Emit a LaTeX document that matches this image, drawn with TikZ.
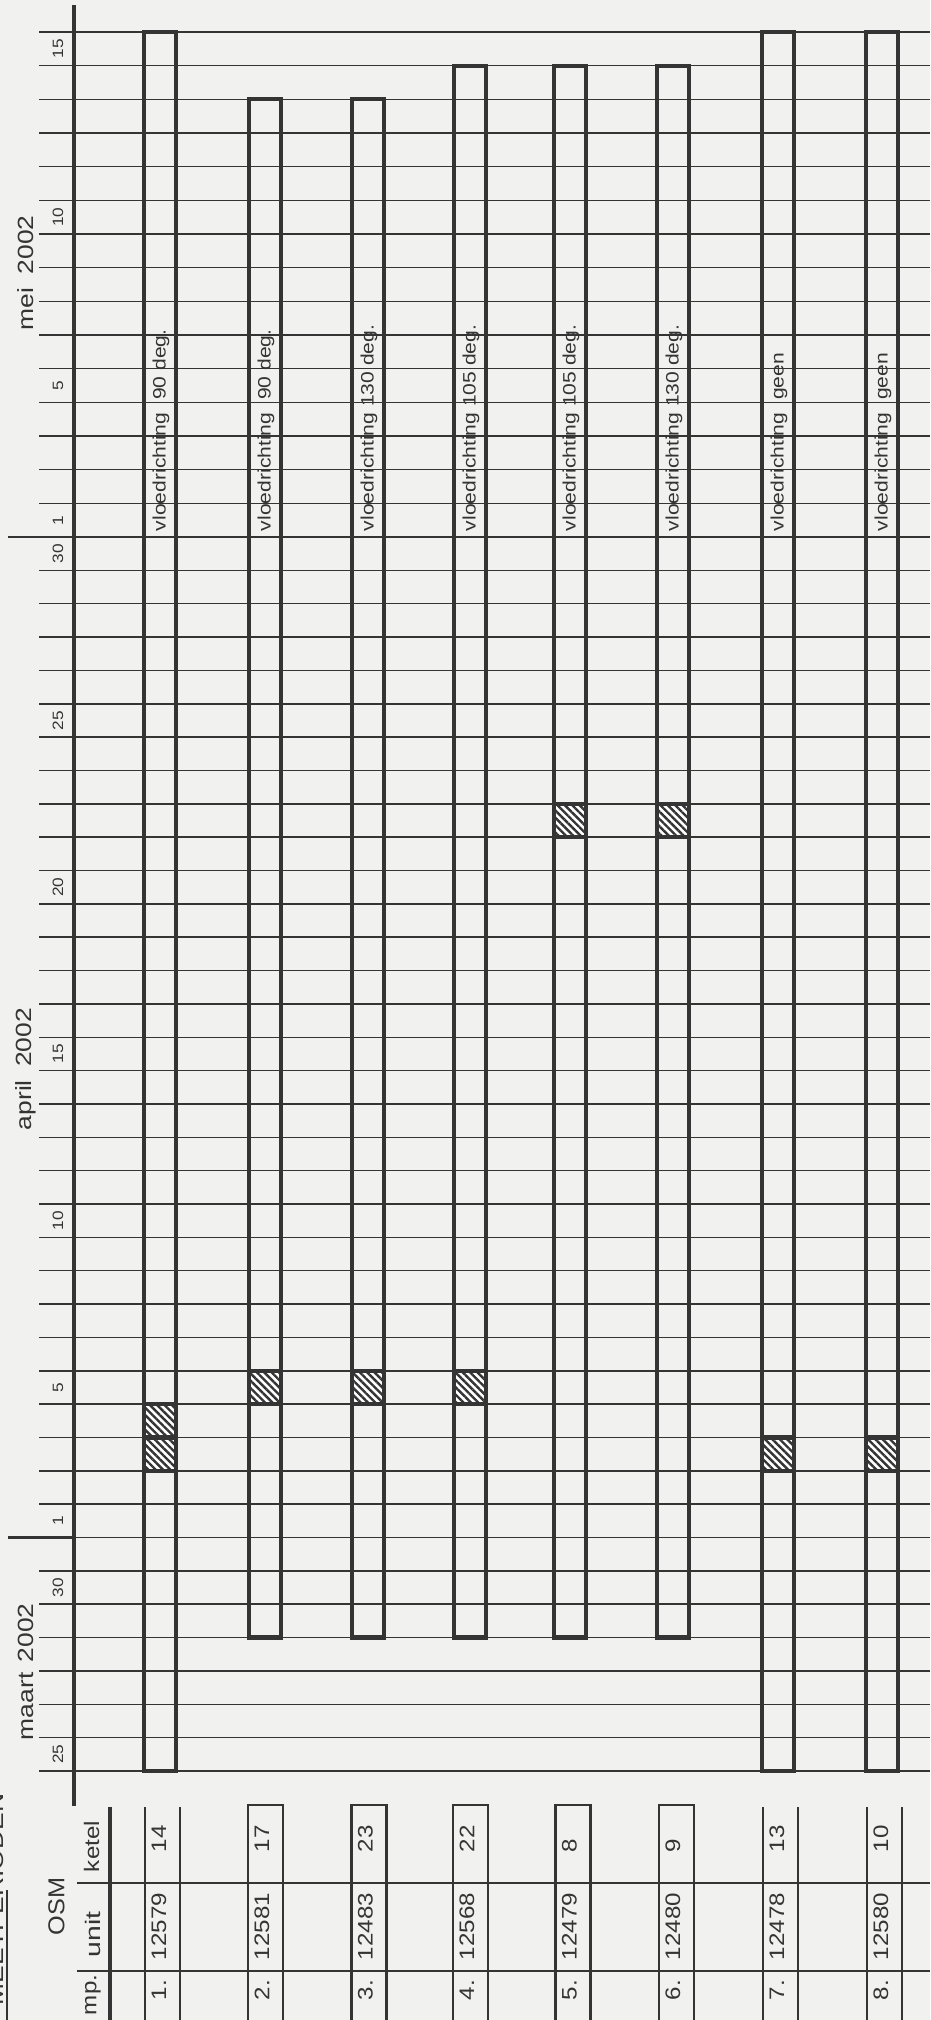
\documentclass[tikz,border=0pt]{standalone}
\usepackage{fontspec}
\setmainfont{Liberation Sans}
\usepackage{graphicx}
\usetikzlibrary{patterns.meta}
\definecolor{paper}{RGB}{241,242,239}
\definecolor{ink}{RGB}{52,52,52}
\newcommand{\stretchtext}[2]{\scalebox{#1}[1]{#2}}
\tikzset{
  declare function={yc(\c)=(\c<15.5)*(32+\c*33.67)+(\c>15.5)*(537+(\c-15)*33.35);},
  gridline/.style={draw=ink, line width=1.5pt},
  axisline/.style={draw=ink, line width=4.5pt},
  sepline/.style={draw=ink, line width=2.2pt},
  barbox/.style={draw=ink, line width=4.2pt},
  hatchbox/.style={draw=ink, line width=4.2pt, preaction={fill=white},
    pattern={Lines[angle=-45,distance=5.2pt,line width=2.4pt]}, pattern color=ink},
  tableline/.style={draw=ink, line width=2.4pt},
  vlabel/.style={rotate=90, inner sep=0pt, outer sep=0pt, text=ink},
  daylabel/.style={vlabel, anchor=center, font=\fontsize{15}{15}\selectfont},
  monthlabel/.style={vlabel, anchor=west, font=\fontsize{22}{22}\selectfont},
  bartext/.style={vlabel, anchor=west, font=\fontsize{18}{18}\selectfont},
  tabletext/.style={vlabel, anchor=west, font=\fontsize{21}{21}\selectfont},
}
\begin{document}
\begin{tikzpicture}[x=1pt,y=-1pt]
\fill[paper] (0,0) rectangle (930,2020);
\useasboundingbox (0,0) rectangle (930,2020);

% day grid
\foreach \c in {0,...,52}{
  \draw[gridline] (39,{yc(\c)}) -- (930,{yc(\c)});
}
% time axis
\draw[axisline] (74,5) -- (74,1806);
% month separators
\draw[sepline] (8,{yc(15)}) -- (74,{yc(15)});
\draw[sepline] (8,{yc(45)}) -- (74,{yc(45)});

% day labels
\foreach \c/\t/\n in {0/15/dA,5/10/dB,10/5/dC,14/1/dD,15/30/dE,20/25/dF,25/20/dG,30/15/dH,35/10/dI,40/5/dJ,44/1/dK,46/30/dL,51/25/dM}{
  \node[daylabel] (\n) at (58,{(yc(\c)+yc(\c+1))/2}) {\stretchtext{1.15}{\t}};
}
% month labels
\node[monthlabel] (mei) at (26,330) {\stretchtext{1.2}{mei\hspace{11pt}2002}};
\node[monthlabel] (april) at (26,1130) {\stretchtext{1.2}{april\hspace{11pt}2002}};
\node[monthlabel] (maart) at (26,1740) {\stretchtext{1.2}{maart\hspace{8.5pt}2002}};

% bars
\foreach \x/\a/\b/\n in {160/0/51/b1,265/2/47/b2,368/2/47/b3,470/1/47/b4,570/1/47/b5,673/1/47/b6,778/0/51/b7,882/0/51/b8}{
  \draw[barbox] (\x-16,{yc(\a)}) rectangle (\x+16,{yc(\b+1)});
}
% hatched days
\foreach \x/\c in {160/41,160/42,265/40,368/40,470/40,570/23,673/23,778/42,882/42}{
  \draw[hatchbox] (\x-16,{yc(\c)}) rectangle (\x+16,{yc(\c+1)});
}
% bar texts
\foreach \x/\t/\n in {160/{vloedrichting\hspace{11pt}90 deg.}/v1,
                      265/{vloedrichting\hspace{11pt}90 deg.}/v2,
                      368/{vloedrichting 130 deg.}/v3,
                      470/{vloedrichting 105 deg.}/v4,
                      570/{vloedrichting 105 deg.}/v5,
                      673/{vloedrichting 130 deg.}/v6,
                      778/{vloedrichting\hspace{11pt}geen}/v7,
                      882/{vloedrichting\hspace{11pt}geen}/v8}{
  \node[bartext] (\n) at (\x+1,531) {\stretchtext{1.17}{\t}};
}

% table
\draw[tableline] (77,1883) -- (930,1883);
\draw[tableline] (77,1971) -- (930,1971);
\draw[axisline] (110,1807) -- (110,2020);
\foreach \x in {162.5,780.5,884.5}{
  \draw[tableline] (\x-17.5,1807) -- (\x-17.5,2020);
  \draw[tableline] (\x+17.5,1807) -- (\x+17.5,2020);
}
\foreach \x in {265.5,369,470.5,573,676.5}{
  \draw[tableline] (\x-17.5,2020) -- (\x-17.5,1805) -- (\x+17.5,1805) -- (\x+17.5,2020);
}
\node[tabletext, font=\fontsize{23}{23}\selectfont] (hosm) at (56.5,1935) {\stretchtext{1.1}{OSM}};
\node[tabletext] (hketel) at (91.5,1872) {\stretchtext{1.15}{ketel}};
\node[tabletext] (hunit) at (93,1957) {\stretchtext{1.35}{unit}};
\node[tabletext] (hmp) at (93,2015) {\stretchtext{1.15}{mp.}};
\foreach \x/\m/\u/\k/\n in {162.5/1./12579/14/r1,265.5/2./12581/17/r2,369/3./12483/23/r3,470.5/4./12568/22/r4,573/5./12479/8/r5,676.5/6./12480/9/r6,780.5/7./12478/13/r7,884.5/8./12580/10/r8}{
  \node[tabletext] (\n m) at (\x-3.5,2000) {\stretchtext{1.15}{\m}};
  \node[tabletext] (\n u) at (\x-3.5,1960) {\stretchtext{1.15}{\u}};
  \node[tabletext] (\n k) at (\x-3.5,1852) {\stretchtext{1.15}{\k}};
}

% clipped title at the left edge
\node[vlabel, anchor=base west, font=\fontsize{22}{22}\selectfont] (title) at (4,2005) {\stretchtext{1.2}{MEETPERIODEN}};
\draw[sepline] (7,1890) -- (7,2020);
\end{tikzpicture}
\end{document}
